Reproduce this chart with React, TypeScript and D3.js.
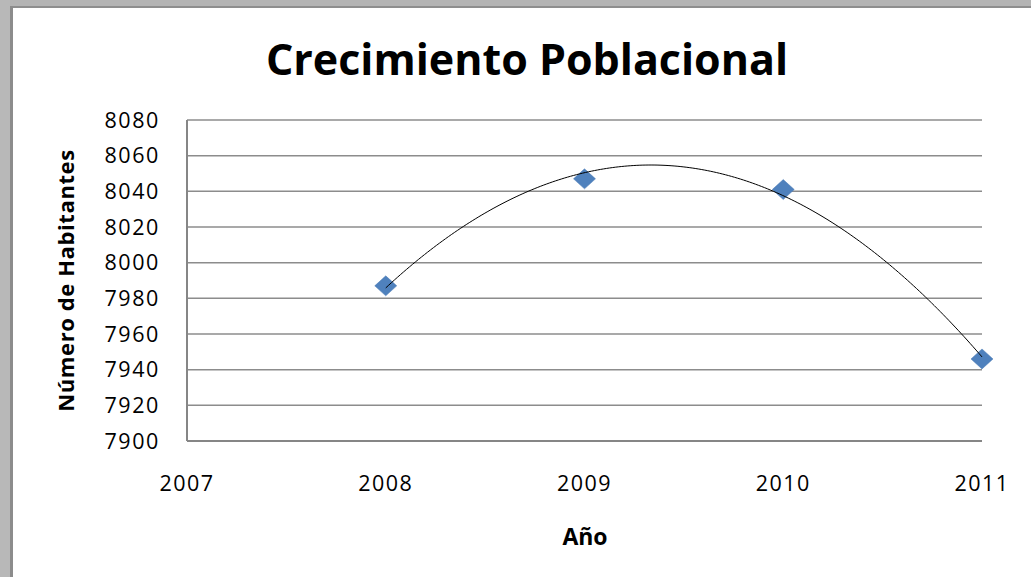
import React from "react";
import * as d3 from "d3";

const years = [2008, 2009, 2010, 2011];
const habitantes = [7987, 8047, 8041, 7946];
const xTicks = [2007, 2008, 2009, 2010, 2011];
const yTicks = [7900, 7920, 7940, 7960, 7980, 8000, 8020, 8040, 8060, 8080];
const title = "Crecimiento Poblacional";
const xTitle = "Año";
const yTitle = "Número de Habitantes";

const W = 1031;
const H = 577;
const FONT = "'Open Sans', 'DejaVu Sans', sans-serif";

// least-squares quadratic (order-2 polynomial trendline)
function quadFit(xs: number[], ys: number[]) {
  const n = xs.length;
  const mx = d3.mean(xs) as number;
  const t = xs.map((x) => x - mx);
  const s2 = d3.sum(t, (v) => v * v);
  const s3 = d3.sum(t, (v) => v * v * v);
  const s4 = d3.sum(t, (v) => v * v * v * v);
  const sy = d3.sum(ys);
  const sty = d3.sum(t.map((v, i) => v * ys[i]));
  const st2y = d3.sum(t.map((v, i) => v * v * ys[i]));
  const A = [
    [n, 0, s2, sy],
    [0, s2, s3, sty],
    [s2, s3, s4, st2y],
  ];
  for (let i = 0; i < 3; i++) {
    let p = i;
    for (let k = i + 1; k < 3; k++) if (Math.abs(A[k][i]) > Math.abs(A[p][i])) p = k;
    [A[i], A[p]] = [A[p], A[i]];
    for (let k = 0; k < 3; k++) {
      if (k === i) continue;
      const f = A[k][i] / A[i][i];
      for (let j = i; j < 4; j++) A[k][j] -= f * A[i][j];
    }
  }
  const a = A[0][3] / A[0][0];
  const b = A[1][3] / A[1][1];
  const c = A[2][3] / A[2][2];
  return (x: number) => {
    const v = x - mx;
    return a + b * v + c * v * v;
  };
}

export default function App() {
  const left = 187;
  const right = 982;
  const top = 120;
  const bottom = 441;
  const x = d3.scaleLinear().domain([2007, 2011]).range([left, right]);
  const y = d3.scaleLinear().domain([7900, 8080]).range([bottom, top]);

  const fit = quadFit(years, habitantes);
  const xs = d3.range(0, 201).map((i) => years[0] + (i / 200) * (years[years.length - 1] - years[0]));
  const trend = d3
    .line<number>()
    .x((d) => x(d))
    .y((d) => y(fit(d)))(xs) as string;

  const dw = 11;
  const dh = 10;

  return (
    <svg
      width={W}
      height={H}
      style={{ position: "absolute", left: 0, top: 0, background: "#fff" }}
      fontFamily={FONT}
    >
      <rect x={0} y={0} width={W} height={H} fill="#fff" />
      {/* window frame */}
      <rect x={0} y={0} width={W} height={6} fill="#b4b4b4" />
      <rect x={0} y={6} width={W} height={2} fill="#8e8e8e" />
      <rect x={0} y={0} width={10} height={H} fill="#b8b8b8" />
      <rect x={10} y={6} width={3} height={H} fill="#8c8c8c" />

      <text
        x={527}
        y={75}
        textAnchor="middle"
        fontSize={43}
        fontWeight="bold"
        fill="#000"
        letterSpacing={0}
      >
        {title}
      </text>

      {/* gridlines */}
      {yTicks.map((t) => (
        <line
          key={t}
          x1={left}
          x2={right}
          y1={y(t)}
          y2={y(t)}
          stroke="#8c8c8c"
          strokeWidth={1.5}
        />
      ))}
      {/* axes */}
      <line x1={left} x2={left} y1={top} y2={bottom} stroke="#868686" strokeWidth={2} />
      <line x1={left} x2={right} y1={bottom} y2={bottom} stroke="#868686" strokeWidth={2} />

      {/* y tick labels */}
      {yTicks.map((t) => (
        <text
          key={t}
          x={160}
          y={y(t)}
          dy="0.36em"
          textAnchor="end"
          fontSize={21.5}
          letterSpacing={1.6}
          fill="#000"
        >
          {t}
        </text>
      ))}
      {/* x tick labels */}
      {xTicks.map((t) => (
        <text
          key={t}
          x={x(t)}
          y={491}
          textAnchor="middle"
          fontSize={21.5}
          letterSpacing={1.4}
          fill="#000"
        >
          {t}
        </text>
      ))}

      {/* axis titles */}
      <text
        x={585}
        y={545}
        textAnchor="middle"
        fontSize={23}
        fontWeight="bold"
        fill="#000"
      >
        {xTitle}
      </text>
      <text
        transform={`translate(74,${(top + bottom) / 2}) rotate(-90)`}
        textAnchor="middle"
        fontSize={22}
        fontWeight="bold"
        fill="#000"
        letterSpacing={0.6}
      >
        {yTitle}
      </text>

      {/* markers */}
      {years.map((yr, i) => {
        const cx = x(yr);
        const cy = y(habitantes[i]);
        return (
          <path
            key={yr}
            d={`M${cx},${cy - dh} L${cx + dw},${cy} L${cx},${cy + dh} L${cx - dw},${cy} Z`}
            fill="#4f81bd"
            stroke="#4a7ab5"
            strokeWidth={0.5}
          />
        );
      })}

      {/* polynomial trendline */}
      <path d={trend} fill="none" stroke="#000" strokeWidth={1} />
    </svg>
  );
}
